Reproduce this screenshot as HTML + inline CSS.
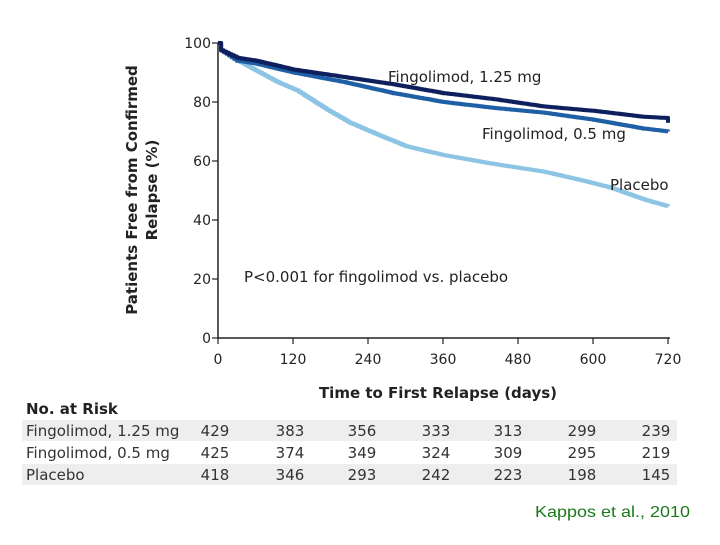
<!DOCTYPE html>
<html><head><meta charset="utf-8"><style>
body{margin:0;background:#fff;}
svg text{font-family:"DejaVu Sans","Liberation Sans",sans-serif;}
</style></head><body>
<svg id="chart" width="720" height="540" viewBox="0 0 720 540" xmlns="http://www.w3.org/2000/svg">
<g id="axes"></g>
<g id="series"></g>
<g id="labels">
<text transform="translate(137,190) rotate(-90)" text-anchor="middle" font-size="15" font-weight="bold" fill="#222">Patients Free from Confirmed</text>
<text transform="translate(157,190) rotate(-90)" text-anchor="middle" font-size="15" font-weight="bold" fill="#222">Relapse (%)</text>
<text x="438" y="398" text-anchor="middle" font-size="15" font-weight="bold" fill="#222">Time to First Relapse (days)</text>
<text x="388" y="82" font-size="15" fill="#222">Fingolimod, 1.25 mg</text>
<text x="482" y="139" font-size="15" fill="#222">Fingolimod, 0.5 mg</text>
<text x="610" y="190" font-size="15" fill="#222">Placebo</text>
<text x="244" y="282" font-size="15" fill="#222">P&lt;0.001 for fingolimod vs. placebo</text>
<text x="535" y="517" font-size="16" textLength="155" lengthAdjust="spacingAndGlyphs" fill="#1a7a1a" style="font-family:'Liberation Sans',sans-serif">Kappos et al., 2010</text>
</g>
<g id="table"></g>
</svg>
<script>
const xTicks=[0,120,240,360,480,600,720];
const yTicks=[0,20,40,60,80,100];
const d125=[0,5,30,60,120,200,280,360,440,520,600,680,715,720];
const v125=[100,97.5,95,94,91,88.5,86,83,81,78.5,77,75,74.6,73];
const d05=[0,5,30,60,120,200,280,360,440,520,600,680,720];
const v05=[100,97.5,94,93,90,86.8,83,80,78,76.4,74,71,70];
const dP=[0,5,40,94,125,174,210,254,300,360,440,520,580,627,680,720];
const vP=[100,97.5,93,86.8,84,77.4,73,69,65,62,59,56.4,53.5,51,47,44.6];
const groups=["Fingolimod, 1.25 mg","Fingolimod, 0.5 mg","Placebo"];
const risk125=[429,383,356,333,313,299,239];
const risk05=[425,374,349,324,309,295,219];
const riskP=[418,346,293,242,223,198,145];
const NS="http://www.w3.org/2000/svg";
const X0=218,X1=668,Y0=338,Y1=43;
const xs=d=>X0+(X1-X0)*d/720;
const ys=v=>Y0-(Y0-Y1)*v/100;
function mk(tag,attrs,parent){const e=document.createElementNS(NS,tag);for(const k in attrs)e.setAttribute(k,attrs[k]);parent.appendChild(e);return e;}
const axes=document.getElementById('axes');
let l=mk('line',{x1:X0,y1:Y1,x2:X0,y2:Y0,stroke:'#222','stroke-width':1.5},axes);


l=mk('line',{x1:X0,y1:Y0,x2:X1+2,y2:Y0,stroke:'#222','stroke-width':1.5},axes);


yTicks.forEach(t=>{const y=ys(t);
 const tk=mk('line',{x1:X0-6,y1:y,x2:X0,y2:y,stroke:'#222','stroke-width':1.2},axes);
 
 
 const tx=mk('text',{x:X0-7,y:y+5,'text-anchor':'end','font-size':14,fill:'#222'},axes);tx.textContent=t;
 
 });
xTicks.forEach(t=>{const x=xs(t);
 const tk=mk('line',{x1:x,y1:Y0,x2:x,y2:Y0+6,stroke:'#222','stroke-width':1.2},axes);
 
 
 const tx=mk('text',{x:x,y:Y0+26,'text-anchor':'middle','font-size':14,fill:'#222'},axes);tx.textContent=t;
 
 });
const ser=document.getElementById('series');
function step(ds,vs,color,name){let p='M'+xs(ds[0])+','+ys(vs[0]);
 for(let i=1;i<ds.length;i++){const x0=xs(ds[i-1]),x1=xs(ds[i]),v0=vs[i-1],v1=vs[i];
  const n=Math.max(1,Math.round((x1-x0)/2.5));
  for(let k=1;k<=n;k++){const xx=x0+(x1-x0)*k/n;const vv=v0+(v1-v0)*k/n;p+=' H'+xx.toFixed(1)+' V'+ys(vv).toFixed(1);}}
 const e=mk('path',{d:p,fill:'none',stroke:color,'stroke-width':4,'stroke-linejoin':'round'},ser);
 
 }
step(dP,vP,'#8cc4e4','curve-placebo');
step(d05,v05,'#1f5fa6','curve-fingolimod-05');
step(d125,v125,'#0d1f5c','curve-fingolimod-125');
const tb=document.getElementById('table');
let h=mk('text',{x:26,y:414,'font-size':15,'font-weight':'bold',fill:'#222'},tb);h.textContent='No. at Risk';


const rows=[risk125,risk05,riskP];
const colX=[215,290,362,436,508,582,656];
rows.forEach((r,i)=>{const y=420+i*22;
 if(i!==1){const bg=mk('rect',{x:22,y:y,width:655,height:21,fill:'#eeeeee'},tb);
  
  }
 const g=mk('text',{x:26,y:y+16,'font-size':15,fill:'#333'},tb);g.textContent=groups[i];
 
 
 r.forEach((v,j)=>{const t=mk('text',{x:colX[j],y:y+16,'text-anchor':'middle','font-size':15,fill:'#333'},tb);t.textContent=v;
  
  });});
</script>
</body></html>
